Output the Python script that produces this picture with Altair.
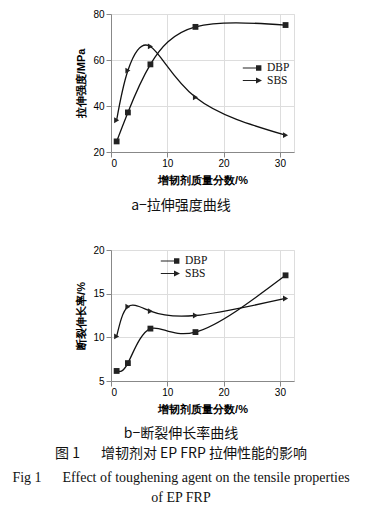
import altair as alt
import pandas as pd

# ---- data ----
x_vals = [1, 3, 7, 15, 31]
series = ["DBP", "SBS"]

# a: tensile strength (MPa)
strength_dbp = [24.6, 37.2, 58.1, 74.4, 75.2]
strength_sbs = [33.8, 55.4, 65.9, 43.8, 27.3]

# b: elongation at break (%)
elong_dbp = [6.15, 7.05, 11.0, 10.6, 17.1]
elong_sbs = [10.1, 13.5, 13.0, 12.5, 14.45]

x_ticks = [0, 5, 10, 15, 20, 25, 30]
ya_ticks = [20, 40, 60, 80]
yb_ticks = [5, 10, 15, 20]

x_title = "增韧剂质量分数/%"
ya_title = "拉伸强度/MPa"
yb_title = "断裂伸长率/%"
cap_a = ["a−拉伸强度曲线"]
cap_b = ["b−断裂伸长率曲线",
         "图 1\u2003\u2002增韧剂对 EP FRP 拉伸性能的影响",
         "Fig 1\u2003\u2002Effect of toughening agent on the tensile properties",
         "of EP FRP"]

SERIF = "Liberation Serif"
CJK = "Noto Sans CJK SC"

# legend glyphs: short line + marker (unit = sqrt(symbolSize)/2 px)
DBP_PATH = "M-2.2,-0.1L0.2,-0.1L0.2,0.1L-2.2,0.1ZM0,-0.45L0.9,-0.45L0.9,0.45L0,0.45Z"
SBS_PATH = "M-2.2,-0.1L0.2,-0.1L0.2,0.1L-2.2,0.1ZM0,-0.5L1.0,0L0,0.5Z"


def make_df(dbp, sbs):
    rows = []
    for s, vals in zip(series, [dbp, sbs]):
        for x, v in zip(x_vals, vals):
            rows.append({"x": x, "y": v, "series": s})
    return pd.DataFrame(rows)


def panel(df, ydom, yticks, ytitle, legx, legy, captions, cap_y, height):
    xenc = alt.X("x:Q", scale=alt.Scale(domain=[0, 32.5], nice=False),
                 axis=alt.Axis(values=x_ticks, title=x_title, labelPadding=1,
                               titlePadding=6))
    yenc = alt.Y("y:Q", scale=alt.Scale(domain=ydom, nice=False),
                 axis=alt.Axis(values=yticks, title=ytitle, titlePadding=6,
                               labelPadding=2))
    base = alt.Chart(df)
    lines = base.mark_line(interpolate="natural", color="#111", strokeWidth=1.3).encode(
        x=xenc, y=yenc, detail="series:N")
    pts = base.mark_point(filled=True, color="#222", opacity=1, size=34).encode(
        x="x:Q", y="y:Q",
        shape=alt.Shape("series:N", scale=alt.Scale(domain=series, range=["square", "triangle-right"]),
                        legend=None))
    leg = base.mark_point(filled=True, color="#222", opacity=0, size=1).encode(
        x="x:Q", y="y:Q",
        shape=alt.Shape("series:N", scale=alt.Scale(domain=series, range=[DBP_PATH, SBS_PATH]),
                        legend=alt.Legend(title=None, orient="none", legendX=legx, legendY=legy,
                                          symbolSize=144, symbolOpacity=1,
                                          symbolFillColor="#222", symbolStrokeWidth=0,
                                          labelFont=SERIF, labelFontSize=11.5,
                                          labelColor="#111", labelOffset=5, rowPadding=0.5,
                                          padding=0)))
    cap_df = pd.DataFrame({"t": captions, "i": list(range(len(captions)))})
    layers = [lines, pts, leg]
    for i, c in enumerate(captions):
        is_en = c.startswith("Fig") or c.startswith("of ")
        layers.append(alt.Chart(cap_df[cap_df.i == i]).mark_text(
            font=SERIF if is_en else CJK, fontSize=14,
            color="#111", baseline="middle", align="center").encode(
            text="t:N", x=alt.value(70), y=alt.value(cap_y[i])))
    return alt.layer(*layers).resolve_scale(shape="independent").properties(
        width=183, height=height)


top = panel(make_df(strength_dbp, strength_sbs), [20, 80], ya_ticks, ya_title,
            139, 48, cap_a, [192], 138)
bot = panel(make_df(elong_dbp, elong_sbs), [5, 20], yb_ticks, yb_title,
            57, 5, cap_b, [184, 204, 228, 248], 131)

chart = alt.vconcat(top, bot, spacing=30).resolve_scale(shape="independent").resolve_legend(
    shape="independent").properties(
    padding={"left": 3, "top": 0, "right": 0, "bottom": 0}
).configure_view(stroke=None).configure_axis(
    grid=False, domainColor="#111", domainWidth=1.3, tickColor="#111", tickSize=3,
    labelFont=SERIF, labelFontSize=12, labelColor="#111",
    titleFont=CJK, titleFontSize=12, titleFontWeight="bold", titleColor="#111"
).configure(background="white")

chart.save("out.html", embed_options={"renderer": "svg", "actions": False})
